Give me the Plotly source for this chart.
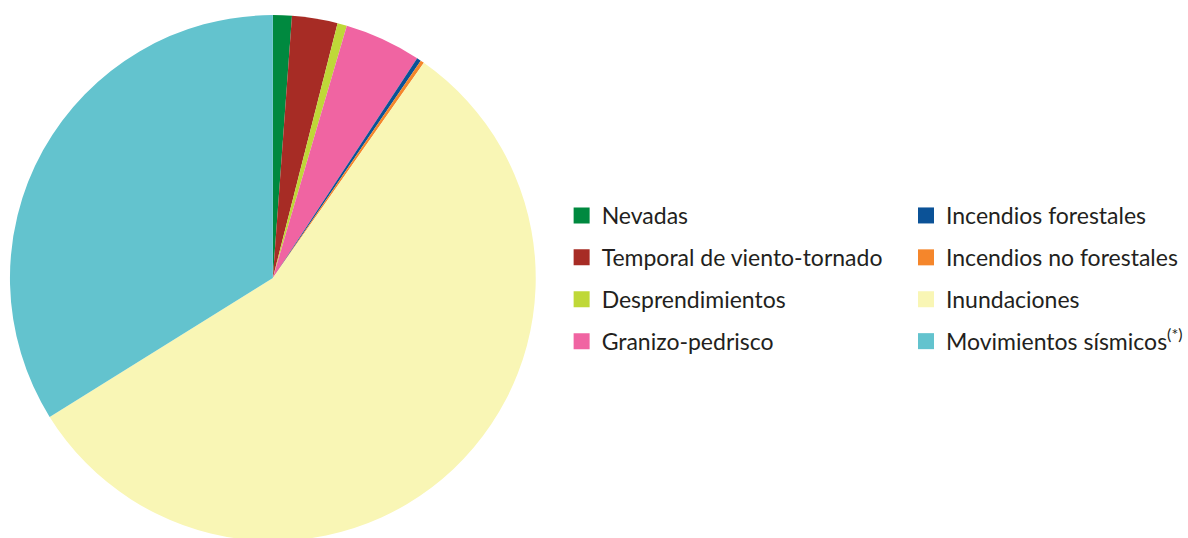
import plotly.graph_objects as go

# Share of each hazard type (percent of total), clockwise from 12 o'clock
categories = [
    "Nevadas",
    "Temporal de viento-tornado",
    "Desprendimientos",
    "Granizo-pedrisco",
    "Incendios forestales",
    "Incendios no forestales",
    "Inundaciones",
    "Movimientos sísmicos<sup>(*)</sup>",
]
shares = [1.16, 2.80, 0.58, 4.71, 0.26, 0.23, 56.40, 33.86]
colors = [
    "#00893F",
    "#A72C25",
    "#BFD838",
    "#F064A2",
    "#0B5297",
    "#F5862B",
    "#F9F6B5",
    "#63C3CE",
]

W, H = 1188, 546

fig = go.Figure()

fig.add_trace(go.Pie(
    labels=categories,
    values=shares,
    sort=False,
    direction="clockwise",
    rotation=0,
    marker=dict(colors=colors, line=dict(width=0)),
    textinfo="none",
    hoverinfo="label+percent",
    showlegend=False,
    domain=dict(x=[10 / W, 538 / W], y=[(H - 542) / H, (H - 14) / H]),
))

# Two-column key: first four categories on the left, the rest on the right
for i, (name, col) in enumerate(zip(categories, colors)):
    fig.add_trace(go.Scatter(
        x=[None], y=[None],
        mode="markers",
        marker=dict(symbol="square", size=16, color=col, line=dict(width=0)),
        name=name,
        legendgroup=f"g{i}",
        legend="legend" if i < 4 else "legend2",
        hoverinfo="skip",
    ))

legend_style = dict(
    orientation="v",
    traceorder="grouped",
    tracegroupgap=9,
    font=dict(family="Lato", size=23, color="#231F20"),
    bgcolor="rgba(0,0,0,0)",
    borderwidth=0,
    xanchor="left",
    yanchor="top",
    itemclick=False,
    itemdoubleclick=False,
)

fig.update_layout(
    width=W,
    height=H,
    autosize=False,
    margin=dict(l=0, r=0, t=0, b=0),
    paper_bgcolor="white",
    plot_bgcolor="white",
    xaxis=dict(visible=False),
    yaxis=dict(visible=False),
    legend=dict(x=(604 - 40) / W, y=(H - 194) / H, **legend_style),
    legend2=dict(x=(950 - 40) / W, y=(H - 194) / H, **legend_style),
)

fig.write_html("out.html")
